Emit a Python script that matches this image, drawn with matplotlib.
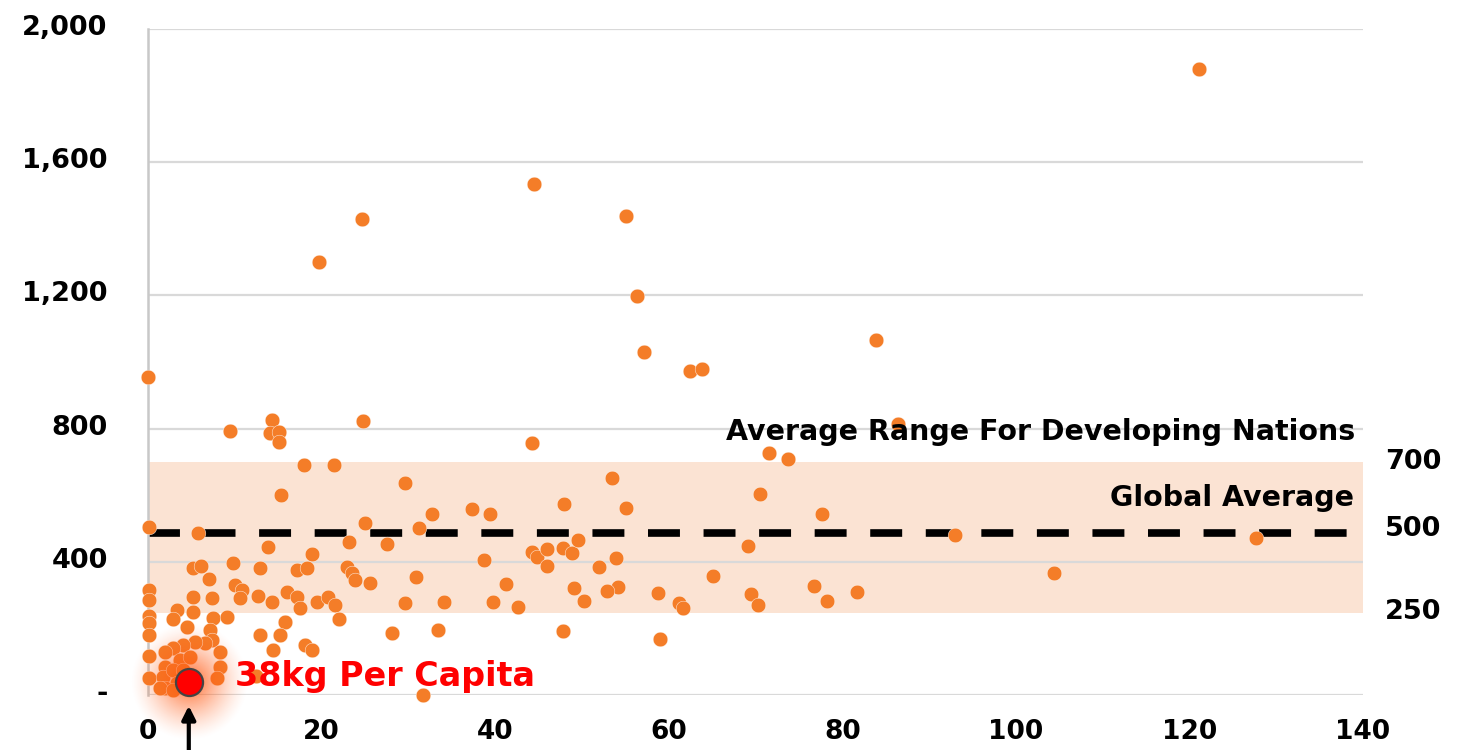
import matplotlib
matplotlib.use("Agg")
import matplotlib.pyplot as plt
import matplotlib.transforms as mtransforms
import numpy as np
from matplotlib.colors import to_rgb

plt.rcParams['font.family'] = ['DejaVu Sans']
plt.rcParams['lines.scale_dashes'] = False

# ---- data ----
x_vals = [121.1, 44.5, 55.1, 24.7, 19.7, 56.3, 57.1, 83.9, 62.4, 63.8,
          0.0, 86.4, 9.4, 14.3, 14.1, 15.1, 15.1, 24.8, 44.2, 71.6,
          73.7, 18.0, 21.4, 53.5, 29.6, 15.3, 70.5, 47.9, 55.1, 37.3,
          39.4, 32.7, 77.7, 25.0, 0.1, 31.2, 5.8, 93.0, 127.7, 23.2,
          27.5, 13.8, 69.1, 18.9, 44.2, 44.8, 46.0, 47.8, 48.9, 49.5,
          38.7, 53.9, 46.0, 52.0, 104.4, 30.9, 65.1, 41.2, 49.1, 54.2,
          52.9, 58.8, 69.5, 76.7, 81.7, 39.8, 42.6, 50.2, 61.2, 61.6,
          70.3, 78.2, 29.6, 34.1, 33.4, 47.8, 59.0, 28.1, 31.7,
          5.2, 6.1, 7.0, 9.8, 10.0, 10.8, 10.6, 12.9, 12.7, 14.3,
          16.0, 17.2, 18.3, 17.2, 17.5, 19.5, 20.7, 21.5, 22.0, 22.9,
          23.5, 23.9, 25.6, 15.8, 15.2, 12.9, 14.4, 18.1, 18.9,
          0.1, 0.1, 0.1, 0.1, 0.1, 0.1, 0.1, 5.2, 7.4, 3.3,
          5.2, 2.9, 4.5, 7.5, 9.1, 7.1, 7.4, 6.6, 5.4, 4.0,
          2.9, 2.0, 8.3, 8.3, 8.0, 2.0, 1.7, 2.0, 3.7, 4.8,
          2.9, 4.0, 3.3, 1.4, 2.9, 4.5, 12.4]
y_vals = [1880, 1535, 1438, 1429, 1300, 1198, 1030, 1066, 973, 979,
          955, 814, 793, 826, 787, 790, 760, 823, 757, 727,
          709, 691, 691, 652, 637, 601, 604, 574, 562, 559,
          544, 544, 544, 517, 505, 502, 487, 480, 471, 459,
          453, 444, 447, 423, 429, 414, 438, 441, 426, 465,
          405, 411, 387, 384, 366, 354, 357, 333, 321, 324,
          312, 306, 303, 327, 309, 279, 264, 282, 276, 261,
          270, 282, 276, 279, 195, 192, 168, 186, 0,
          381, 387, 348, 396, 330, 315, 291, 381, 297, 279,
          309, 375, 381, 294, 261, 279, 294, 270, 228, 384,
          366, 345, 336, 219, 180, 180, 135, 150, 135,
          315, 285, 237, 216, 180, 117, 51, 294, 291, 255,
          249, 228, 204, 231, 234, 195, 165, 156, 159, 150,
          141, 129, 129, 84, 51, 84, 54, 21, 105, 114,
          75, 75, 36, 21, 15, 45, 57]

highlight_x = 4.7
highlight_y = 38
band_low, band_high = 245, 700
global_avg = 485
right_labels = [700, 500, 250]
y_ticks = [0, 400, 800, 1200, 1600, 2000]
y_ticklabels = ['-', '400', '800', '1,200', '1,600', '2,000']
x_ticks = [0, 20, 40, 60, 80, 100, 120, 140]

ORANGE = '#F47D28'
BAND = '#FBE3D3'
GRID = '#D9D9D9'

fig = plt.figure(figsize=(14.63, 7.5), dpi=100)
ax = fig.add_axes([148/1463, 55/750, 1215/1463, 666/750])
ax.set_xlim(0, 140)
ax.set_ylim(0, 2000)

# band
ax.axhspan(band_low, band_high, color=BAND, zorder=0.2, lw=0)

# grid
ax.set_axisbelow(True)
ax.yaxis.grid(True, color=GRID, lw=1.6)
ax.xaxis.grid(False)
for s in ['top', 'right', 'bottom']:
    ax.spines[s].set_visible(False)
ax.spines['left'].set_color('#C8C8C8')
ax.spines['left'].set_linewidth(1.8)

# dashed global average line
ax.plot([0, 139.2], [global_avg, global_avg], color='black', lw=5.5,
        dashes=(23, 17), solid_capstyle='butt', dash_capstyle='butt', zorder=2)

# scatter
ax.scatter(x_vals, y_vals, s=112, color=ORANGE, edgecolors='white',
           linewidths=0.3, zorder=3, clip_on=False)

# soft glow around highlight (radial gradient image)
gx = 6.8   # half-width in x data units
gy = 6.8 * 8.679 * 3.003  # same pixel radius in y units
n = 201
xx, yy = np.meshgrid(np.linspace(-1, 1, n), np.linspace(-1, 1, n))
rr = np.sqrt(xx**2 + yy**2)
alpha = np.clip(1 - rr, 0, 1) ** 1.4 * 0.9
img = np.zeros((n, n, 4))
img[..., :3] = to_rgb('#FF5A14')
img[..., 3] = alpha
ax.imshow(img, extent=[highlight_x - gx, highlight_x + gx,
                       highlight_y - gy, highlight_y + gy],
          origin='lower', zorder=3.5, clip_on=False, aspect='auto',
          interpolation='bilinear')
ax.set_xlim(0, 140)
ax.set_ylim(0, 2000)

ax.scatter([highlight_x], [highlight_y], s=380, color='#FF0000',
           edgecolors='#444444', linewidths=1.6, zorder=5, clip_on=False)

# arrow under axis
ax.annotate('', xy=(highlight_x, -24), xytext=(highlight_x, -190),
            arrowprops=dict(arrowstyle='-|>', color='black', lw=3,
                            mutation_scale=20),
            annotation_clip=False, zorder=6)

ax.text(10.0, 57, '38kg Per Capita', color='#FF0000', fontsize=24,
        fontweight='bold', ha='left', va='center', zorder=6)

ax.text(139.1, 790, 'Average Range For Developing Nations', fontsize=20.5,
        fontweight='bold', ha='right', va='center', zorder=6)
ax.text(139.0, 592, 'Global Average', fontsize=20.5, fontweight='bold',
        ha='right', va='center', zorder=6)

for v in right_labels:
    ax.text(142.5, v, str(v), fontsize=19.5, fontweight='bold', ha='left',
            va='center', clip_on=False)

ax.set_yticks(y_ticks)
ax.set_yticklabels(y_ticklabels, fontsize=19.5, fontweight='bold')
ax.set_xticks(x_ticks)
ax.set_xticklabels([str(v) for v in x_ticks], fontsize=19, fontweight='bold')
ax.tick_params(axis='y', length=0, pad=29)
ax.tick_params(axis='x', length=0, pad=17)

shift = mtransforms.ScaledTranslation(0, 4/100, fig.dpi_scale_trans)
for lab in ax.get_yticklabels():
    lab.set_transform(lab.get_transform() + shift)

fig.savefig('out.png', dpi=100)
